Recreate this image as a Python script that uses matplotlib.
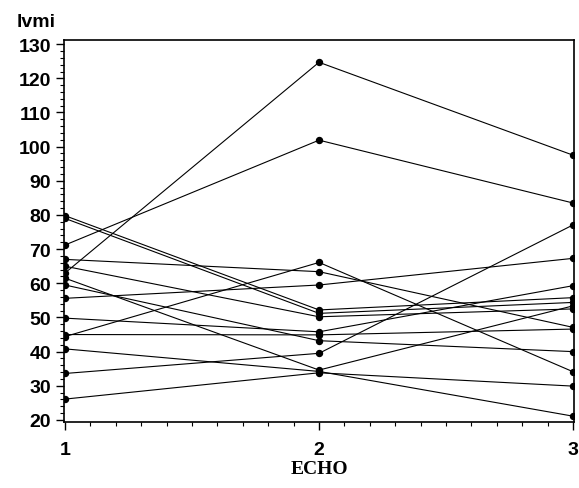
import matplotlib
matplotlib.use("Agg")
import matplotlib.pyplot as plt
from matplotlib.ticker import MultipleLocator

# lvmi per subject at echo 1, 2, 3
echo = [1, 2, 3]
echo1 = [63.0, 71.2, 79.8, 79.0, 67.0, 65.0, 61.5, 59.5, 55.6, 49.8, 44.4, 45.0, 40.8, 33.6, 26.1]
echo2 = [124.7, 101.9, 52.2, 51.2, 63.4, 50.2, 34.6, 43.2, 59.5, 45.8, 66.1, 44.9, 34.2, 39.5, 33.8]
echo3 = [97.5, 83.5, 55.8, 54.4, 47.1, 52.5, 53.4, 40.0, 67.3, 59.3, 34.1, 46.6, 21.1, 77.1, 29.9]

yticks = list(range(20, 131, 10))

fig = plt.figure(figsize=(5.79, 4.89), dpi=100)
ax = fig.add_axes([0.110, 0.135, 0.882, 0.781])

for a, b, c in zip(echo1, echo2, echo3):
    ax.plot(echo, [a, b, c], color='black', linewidth=0.8,
            marker='o', markersize=4.3, markerfacecolor='black', markeredgecolor='black')

ax.set_xlim(0.995, 3.005)
ax.set_ylim(19.4, 131.2)
ax.set_xticks(echo)
ax.set_yticks(yticks)
ax.xaxis.set_minor_locator(MultipleLocator(0.1))
ax.yaxis.set_minor_locator(MultipleLocator(2))

sans = ['Liberation Sans Narrow', 'Liberation Sans', 'DejaVu Sans']
tick_font = {'family': sans, 'weight': 'bold', 'size': 14}
ax.set_xticklabels([str(e) for e in echo], fontdict=tick_font)
ax.set_yticklabels([str(v) for v in yticks], fontdict=tick_font)

ax.tick_params(axis='both', which='major', direction='out', length=6, width=1, color='black')
ax.tick_params(axis='both', which='minor', direction='out', length=3, width=0.8, color='black')
ax.tick_params(axis='x', which='major', pad=8)
ax.tick_params(axis='y', which='major', pad=3)

for s in ax.spines.values():
    s.set_linewidth(1.2)
    s.set_color('black')

fig.text(17 / 579, 1 - 27 / 489, 'lvmi', ha='left', va='baseline',
         family=sans, weight='bold', size=14)
fig.text(319 / 579, 1 - 470 / 489, 'ECHO', ha='center', va='center',
         family=['Liberation Serif', 'DejaVu Serif'], weight='bold', size=14)

fig.savefig('out.png', dpi=100)
